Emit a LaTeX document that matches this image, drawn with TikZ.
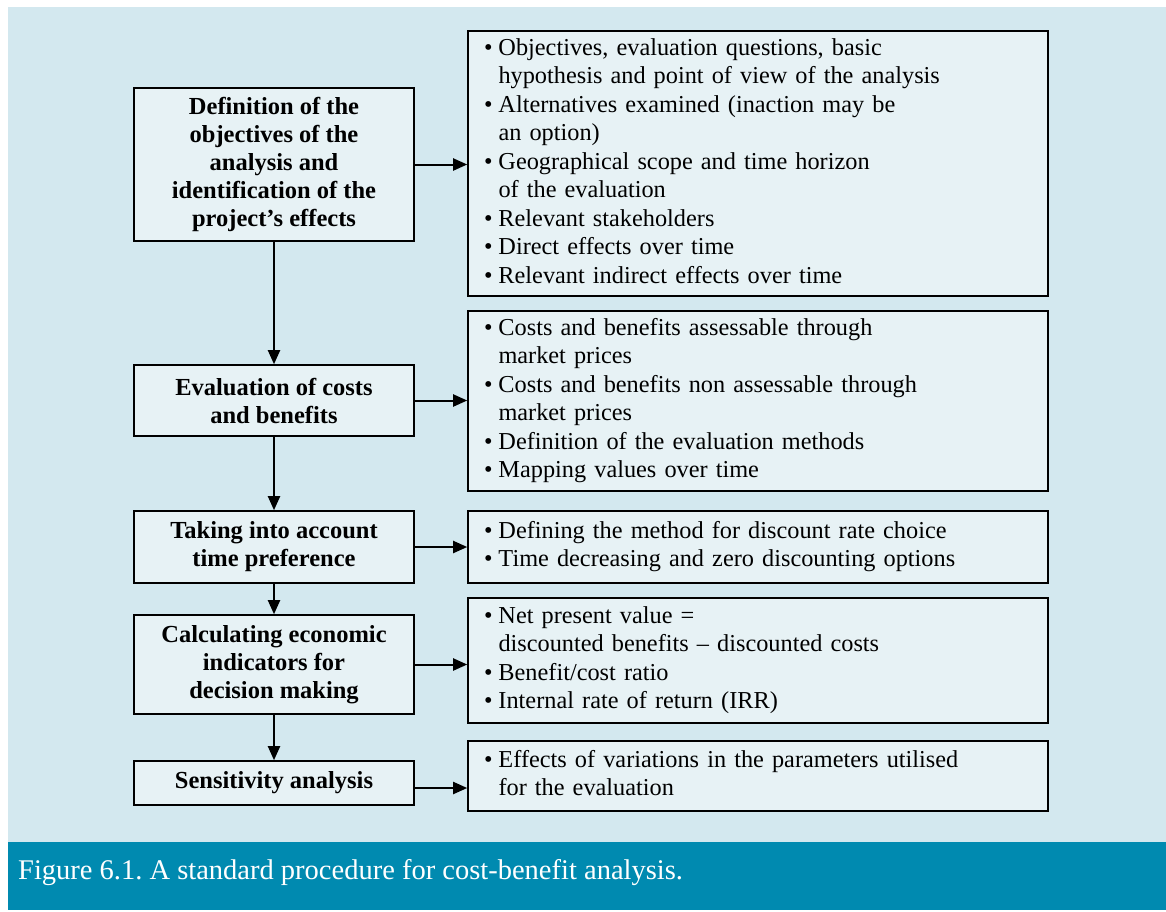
\documentclass[tikz,border=0pt]{standalone}
\usepackage{fontspec}
\setmainfont{Liberation Serif}
\usetikzlibrary{arrows.meta}
\definecolor{panel}{HTML}{D3E8EF}
\definecolor{boxfill}{HTML}{E7F2F5}
\definecolor{band}{HTML}{008AB0}
\newcommand{\bl}{\textbullet}
\frenchspacing
\begin{document}
\begin{tikzpicture}[x=1pt,y=-1pt,
  lbox/.style={draw=black,line width=1.6pt,fill=boxfill,minimum width=280pt,align=center,
    font=\fontsize{24.5}{28}\selectfont\bfseries,inner sep=0pt},
  rbox/.style={draw=black,line width=1.6pt,fill=boxfill,minimum width=580pt,text width=548pt,align=left,
    inner xsep=16pt,inner ysep=0pt,font=\fontsize{24.3}{28.5}\selectfont},
  conn/.style={line width=2pt,-{Triangle[length=14pt,width=12pt]}}]
\useasboundingbox (0,0) rectangle (1166,911);
\fill[panel] (8,7) rectangle (1166,842);
\fill[band] (8,842) rectangle (1166,910);
\node[anchor=base west,text=white,font=\fontsize{28.5}{32}\selectfont,inner sep=0pt] (cap) at (18,879)
  {Figure 6.1. A standard procedure for cost-benefit analysis.};
% left boxes
\node[lbox,minimum height=153pt] (b1) at (274,164.5) {Definition of the\\objectives of the\\analysis and\\identification of the\\project’s effects};
\node[lbox,minimum height=71pt] (b2) at (274,400.5) {Evaluation of costs\\and benefits};
\node[lbox,minimum height=72pt] (b3) at (274,547) {Taking into account\\time preference};
\node[lbox,minimum height=99pt] (b4) at (274,664.5) {Calculating economic\\indicators for\\decision making};
\node[lbox,minimum height=44pt] (b5) at (274,783) {Sensitivity analysis};
% right boxes
\node[rbox,minimum height=265pt] (r1) at (758,163.5) {\begin{tabular}{@{}l@{\hspace{6pt}}l@{}}
\bl & Objectives, evaluation questions, basic\\
 & hypothesis and point of view of the analysis\\
\bl & Alternatives examined (inaction may be\\
 & an option)\\
\bl & Geographical scope and time horizon\\
 & of the evaluation\\
\bl & Relevant stakeholders\\
\bl & Direct effects over time\\
\bl & Relevant indirect effects over time
\end{tabular}};
\node[rbox,minimum height=180pt] (r2) at (758,401) {\begin{tabular}{@{}l@{\hspace{6pt}}l@{}}
\bl & Costs and benefits assessable through\\
 & market prices\\
\bl & Costs and benefits non assessable through\\
 & market prices\\
\bl & Definition of the evaluation methods\\
\bl & Mapping values over time
\end{tabular}};
\node[rbox,minimum height=72pt] (r3) at (758,547) {\begin{tabular}{@{}l@{\hspace{6pt}}l@{}}
\bl & Defining the method for discount rate choice\\
\bl & Time decreasing and zero discounting options
\end{tabular}};
\node[rbox,minimum height=125pt] (r4) at (758,660.5) {\begin{tabular}{@{}l@{\hspace{6pt}}l@{}}
\bl & Net present value =\\
 & discounted benefits – discounted costs\\
\bl & Benefit/cost ratio\\
\bl & Internal rate of return (IRR)
\end{tabular}};
\node[rbox,minimum height=70pt] (r5) at (758,776) {\begin{tabular}{@{}l@{\hspace{6pt}}l@{}}
\bl & Effects of variations in the parameters utilised\\
 & for the evaluation
\end{tabular}};
% connectors
\draw[conn] (b1) -- (b2);
\draw[conn] (b2) -- (b3);
\draw[conn] (b3) -- (b4);
\draw[conn] (b4) -- (b5);
\draw[conn] (b1.east) -- (b1.east -| r1.west);
\draw[conn] (b2.east) -- (b2.east -| r2.west);
\draw[conn] (b3.east) -- (b3.east -| r3.west);
\draw[conn] (b4.east) -- (b4.east -| r4.west);
\draw[conn] ([yshift=-5pt]b5.east) -- ([yshift=-5pt]b5.east -| r5.west);
\end{tikzpicture}
\end{document}
